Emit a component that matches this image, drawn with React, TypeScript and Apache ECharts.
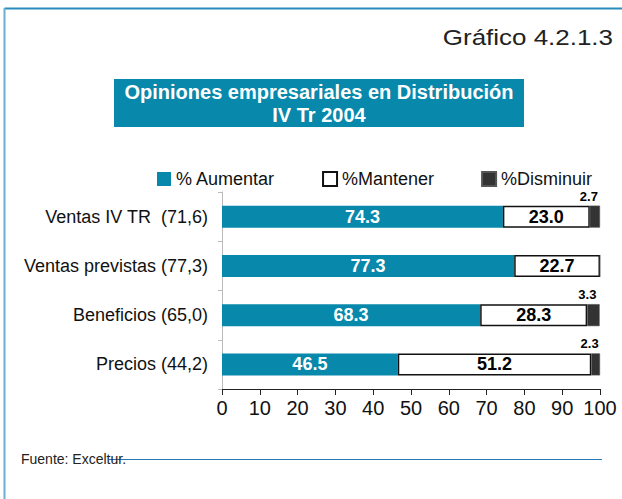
import React, { useEffect, useRef } from "react";
import * as echarts from "echarts";

const categories = [
  "Ventas IV TR  (71,6)",
  "Ventas previstas (77,3)",
  "Beneficios (65,0)",
  "Precios (44,2)",
];
const aumentar = [74.3, 77.3, 68.3, 46.5];
const mantener = [23.0, 22.7, 28.3, 51.2];
const disminuir = [2.7, 0, 3.3, 2.3];
const xTicks = [0, 10, 20, 30, 40, 50, 60, 70, 80, 90, 100];
const seriesNames = ["% Aumentar", "%Mantener", "%Disminuir"];

const FONT = "'Liberation Sans', Arial, Helvetica, sans-serif";
const TEAL = "#0888ab";

export default function App() {
  const ref = useRef<HTMLDivElement>(null);
  useEffect(() => {
    if (!ref.current) return;
    const chart = echarts.init(ref.current, undefined, { renderer: "svg" });
    chart.setOption({
      animation: false,
      backgroundColor: "#ffffff",
      textStyle: { fontFamily: FONT },
      legend: {
        left: 152,
        top: 165,
        itemWidth: 14,
        itemHeight: 14,
        itemGap: 47,
        icon: "rect",
        textStyle: { fontSize: 18, color: "#111", fontFamily: FONT },
        data: seriesNames,
      },
      grid: { left: 222, right: 22, top: 192, bottom: 110, containLabel: false },
      xAxis: {
        type: "value",
        min: 0,
        max: 100,
        interval: 10,
        axisLine: { show: true, lineStyle: { color: "#222", width: 1 } },
        axisTick: { show: true, length: 6, lineStyle: { color: "#222" } },
        axisLabel: {
          fontSize: 20,
          color: "#111",
          margin: 9,
          fontFamily: FONT,
          formatter: (v: number) => (xTicks.includes(v) ? String(v) : ""),
        },
        splitLine: { show: false },
      },
      yAxis: {
        type: "category",
        data: categories,
        inverse: true,
        axisLine: { show: true, lineStyle: { color: "#bbb", width: 1 } },
        axisTick: { show: true, length: 4, inside: false, lineStyle: { color: "#bbb" } },
        axisLabel: { fontSize: 18, color: "#111", margin: 14, fontFamily: FONT },
      },
      series: [
        {
          name: seriesNames[0],
          type: "bar",
          stack: "t",
          barWidth: 22,
          data: aumentar,
          itemStyle: { color: TEAL },
          label: {
            show: true,
            position: "inside",
            color: "#fff",
            fontWeight: "bold",
            fontSize: 18,
            fontFamily: FONT,
            formatter: (p: any) => p.value.toFixed(1),
          },
        },
        {
          name: seriesNames[1],
          type: "bar",
          stack: "t",
          barWidth: 22,
          data: mantener,
          itemStyle: { color: "#ffffff", borderColor: "#111", borderWidth: 1.5 },
          label: {
            show: true,
            position: "inside",
            color: "#000",
            fontWeight: "bold",
            fontSize: 18,
            fontFamily: FONT,
            formatter: (p: any) => p.value.toFixed(1),
          },
        },
        {
          name: seriesNames[2],
          type: "bar",
          stack: "t",
          barWidth: 22,
          data: disminuir,
          itemStyle: { color: "#333333", borderColor: "#555", borderWidth: 0.5 },
          label: {
            show: true,
            position: "top",
            distance: 3,
            offset: [-6, 0],
            color: "#000",
            fontWeight: "bold",
            fontSize: 13,
            fontFamily: FONT,
            formatter: (p: any) => (p.value > 0 ? p.value.toFixed(1) : ""),
          },
        },
      ],
      graphic: [
        {
          type: "line",
          shape: { x1: 4.5, y1: 8.5, x2: 622, y2: 8.5 },
          style: { stroke: "#2a8bbd", lineWidth: 2 },
          silent: true,
        },
        {
          type: "line",
          shape: { x1: 4.5, y1: 8, x2: 4.5, y2: 499 },
          style: { stroke: "#6aaed2", lineWidth: 2 },
          silent: true,
        },
        {
          type: "text",
          x: 613,
          y: 37,
          scaleX: 1.18,
          style: {
            text: "Gráfico 4.2.1.3",
            fontSize: 22,
            fill: "#222",
            fontFamily: FONT,
            align: "right",
            verticalAlign: "middle",
          },
        },
        {
          type: "rect",
          shape: { x: 114, y: 79, width: 410, height: 48 },
          style: { fill: "#0888ab" },
        },
        {
          type: "text",
          x: 319,
          y: 103,
          style: {
            text: "Opiniones empresariales en Distribución\nIV Tr 2004",
            fontSize: 20,
            fontWeight: "bold",
            fill: "#ffffff",
            fontFamily: FONT,
            align: "center",
            verticalAlign: "middle",
            lineHeight: 23,
          },
        },
        {
          type: "line",
          shape: { x1: 109, y1: 459.5, x2: 602, y2: 459.5 },
          style: { stroke: "#2a7ab8", lineWidth: 1 },
          silent: true,
        },
        {
          type: "text",
          x: 21,
          y: 459,
          style: {
            text: "Fuente: Excelt​ur.",
            fontSize: 14,
            fill: "#222",
            fontFamily: FONT,
            verticalAlign: "middle",
          },
        },
      ],
    });
    return () => chart.dispose();
  }, []);
  return (
    <div
      ref={ref}
      style={{ position: "fixed", left: 0, top: 0, width: 622, height: 499 }}
    />
  );
}
